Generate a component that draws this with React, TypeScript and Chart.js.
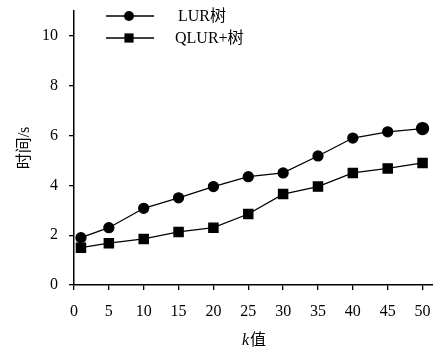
import React, { useEffect, useRef } from "react";
import { Chart, registerables } from "chart.js";

Chart.register(...registerables);

const kValues = [1, 5, 10, 15, 20, 25, 30, 35, 40, 45, 50];
const lurTimes = [1.9, 2.3, 3.08, 3.5, 3.95, 4.35, 4.5, 5.18, 5.9, 6.15, 6.28];
const qlurTimes = [1.5, 1.68, 1.85, 2.13, 2.3, 2.85, 3.65, 3.95, 4.5, 4.68, 4.9];
const xTicks = [0, 5, 10, 15, 20, 25, 30, 35, 40, 45, 50];
const yTicks = [0, 2, 4, 6, 8, 10];
const seriesLabels = ["LUR树", "QLUR+树"];
const yTitle = "时间/s";
const xTitleItalic = "k";
const xTitleRest = "值";

const FONT = "'Liberation Serif', 'Times New Roman', 'Noto Sans CJK SC', serif";

const legendPlugin = {
  id: "customLegend",
  afterDraw(chart: any) {
    const ctx = chart.ctx;
    ctx.save();
    chart.data.datasets.forEach((ds: any, i: number) => {
      const y = 16 + i * 22;
      ctx.strokeStyle = "#000";
      ctx.fillStyle = "#000";
      ctx.lineWidth = 1.3;
      ctx.beginPath();
      ctx.moveTo(106, y);
      ctx.lineTo(154, y);
      ctx.stroke();
      ctx.beginPath();
      if (ds.pointStyle === "rect") {
        ctx.rect(129 - 4.6, y - 4.6, 9.2, 9.2);
      } else {
        ctx.arc(129, y, 5, 0, Math.PI * 2);
      }
      ctx.fill();
      ctx.font = `16px ${FONT}`;
      ctx.textAlign = "left";
      ctx.textBaseline = "middle";
      ctx.fillText(ds.label, i === 0 ? 178 : 175, y + 1);
    });
    const ca = chart.chartArea;
    // x axis title with italic k
    const cx = (ca.left + ca.right) / 2;
    const ty = 341;
    ctx.font = `italic 16px ${FONT}`;
    const w1 = ctx.measureText(xTitleItalic).width;
    ctx.font = `16px ${FONT}`;
    const w2 = ctx.measureText(xTitleRest).width;
    const start = cx - (w1 + w2) / 2;
    ctx.textAlign = "left";
    ctx.textBaseline = "middle";
    ctx.font = `italic 16px ${FONT}`;
    ctx.fillText(xTitleItalic, start, ty);
    ctx.font = `16px ${FONT}`;
    ctx.fillText(xTitleRest, start + w1 + 1, ty);
    ctx.restore();
  },
};

export default function App() {
  const canvasRef = useRef<HTMLCanvasElement | null>(null);

  useEffect(() => {
    if (!canvasRef.current) return;
    const chart = new Chart(canvasRef.current, {
      type: "line",
      data: {
        datasets: [
          {
            label: seriesLabels[0],
            data: kValues.map((k, i) => ({ x: k, y: lurTimes[i] })),
            borderColor: "#000",
            backgroundColor: "#000",
            borderWidth: 1.3,
            pointStyle: "circle",
            pointRadius: (c: any) => (c.dataIndex === kValues.length - 1 ? 6 : 5),
            tension: 0,
          },
          {
            label: seriesLabels[1],
            data: kValues.map((k, i) => ({ x: k, y: qlurTimes[i] })),
            borderColor: "#000",
            backgroundColor: "#000",
            borderWidth: 1.3,
            pointStyle: "rect",
            pointRadius: 6.5,
            tension: 0,
          },
        ],
      },
      options: {
        responsive: false,
        animation: false,
        clip: false,
        layout: { autoPadding: false, padding: { top: 11, right: 0, left: 0, bottom: 0 } },
        plugins: {
          legend: { display: false },
          tooltip: { enabled: false },
        },
        scales: {
          x: {
            type: "linear",
            min: 0,
            max: 51.5,
            afterBuildTicks: (scale: any) => {
              scale.ticks = xTicks.map((v) => ({ value: v }));
            },
            afterFit: (scale: any) => {
              scale.height = 64;
              scale.paddingLeft = 0;
              scale.paddingRight = 0;
            },
            grid: {
              drawOnChartArea: false,
              drawTicks: true,
              tickLength: 5,
              color: "#000",
              lineWidth: 1.3,
            },
            border: { color: "#000", width: 1.5 },
            ticks: {
              color: "#000",
              font: { family: FONT, size: 16 },
              padding: 12,
              maxRotation: 0,
              autoSkip: false,
            },
          },
          y: {
            type: "linear",
            min: 0,
            max: 11,
            afterBuildTicks: (scale: any) => {
              scale.ticks = yTicks.map((v) => ({ value: v }));
            },
            afterFit: (scale: any) => {
              scale.width = 74;
              scale.paddingTop = 0;
              scale.paddingBottom = 0;
            },
            grid: {
              drawOnChartArea: false,
              drawTicks: true,
              tickLength: 5,
              color: "#000",
              lineWidth: 1.3,
            },
            border: { color: "#000", width: 1.5 },
            ticks: {
              color: "#000",
              font: { family: FONT, size: 16 },
              padding: 11,
              autoSkip: false,
            },
            title: {
              display: true,
              text: yTitle,
              color: "#000",
              font: { family: FONT, size: 16 },
              padding: { top: 15, bottom: 0 },
            },
          },
        },
      },
      plugins: [legendPlugin],
    } as any);
    return () => chart.destroy();
  }, []);

  return (
    <div style={{ position: "absolute", left: 0, top: 0, width: 433, height: 349, background: "#fff" }}>
      <canvas ref={canvasRef} width={433} height={349} />
    </div>
  );
}
